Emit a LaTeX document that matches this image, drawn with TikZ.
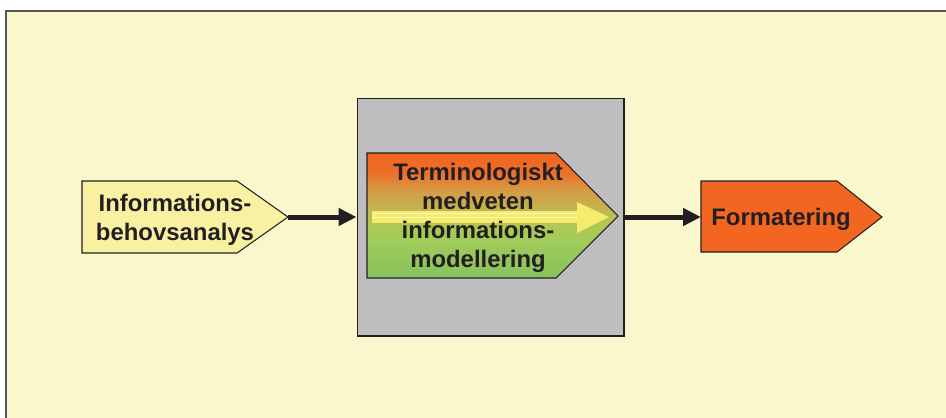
\documentclass[tikz,border=0pt]{standalone}
\usepackage{fontspec}
\setmainfont{Liberation Sans}
\usetikzlibrary{arrows.meta}

\definecolor{paper}{RGB}{250,247,205}
\definecolor{frame}{RGB}{85,85,85}
\definecolor{paleyel}{RGB}{248,241,162}
\definecolor{boxgray}{RGB}{190,190,192}
\definecolor{orng}{RGB}{242,102,34}
\definecolor{ink}{RGB}{35,31,32}
\definecolor{glow}{RGB}{245,236,110}
\definecolor{glowlight}{RGB}{252,248,185}

\pgfdeclareverticalshading{modelshade}{100bp}{%
	rgb(0bp)=(0.53,0.76,0.37); rgb(25bp)=(0.53,0.76,0.37);
	rgb(40bp)=(0.63,0.80,0.35); rgb(47.5bp)=(0.70,0.78,0.33);
	rgb(52.5bp)=(0.76,0.71,0.31); rgb(60bp)=(0.84,0.61,0.27);
	rgb(67.5bp)=(0.93,0.43,0.16); rgb(75bp)=(0.95,0.40,0.13);
	rgb(100bp)=(0.95,0.40,0.13)}

\begin{document}
\begin{tikzpicture}[x=0.02cm,y=-0.02cm,
		flow/.style={ink,line width=0.1cm,-{Triangle[length=0.36cm,width=0.34cm]}},
		lbl/.style={font=\fontsize{13.6}{16.6}\selectfont\bfseries,text=ink,align=center,inner sep=0pt},
		outline/.style={draw=ink,line width=0.6pt}]
		\clip (0,0) rectangle (946,417);
		\fill[white] (0,0) rectangle (946,417);
		\draw[frame,line width=1.2pt,fill=paper] (6,11) rectangle (960,430);
		
		% first step
		\draw[outline,fill=paleyel] (82,181) -- (237,181) -- (288,217) -- (237,253) -- (82,253) -- cycle;
		\coordinate (needTip) at (288,217);
		\node[lbl] (needTxt) at (175,220) {Informations-\\behovsanalys};
		
		% the grey box and the modelling step
		\node[draw=ink,line width=0.6pt,fill=boxgray,minimum width=5.34cm,minimum height=4.76cm,inner sep=0pt] (model) at (490.5,217) {};
		\draw[outline,shading=modelshade] (367,153) -- (556,153) -- (618,216) -- (556,278) -- (367,278) -- cycle;
		
		\fill[glow] (372,211) rectangle (577,223);
		\fill[glow] (577,202) -- (609,217) -- (577,233) -- cycle;
		\draw[glowlight,line width=0.8pt] (372,213.5) -- (577,213.5);
		\draw[glowlight,line width=0.8pt] (372,217.5) -- (577,217.5);
		\node[lbl] (modelTxt) at (478,218) {Terminologiskt\\medveten\\informations-\\modellering};
		
		% last step
		\draw[outline,fill=orng] (701,181) -- (837,181) -- (882,217) -- (837,252) -- (701,252) -- cycle;
		\coordinate (fmtIn) at (701,217);
		\node[lbl] (fmtTxt) at (781,219) {Formatering};
		
		\draw[flow] (needTip) -- (model.west);
		\draw[flow] (model.east) -- (fmtIn);
	\end{tikzpicture}
\end{document}
